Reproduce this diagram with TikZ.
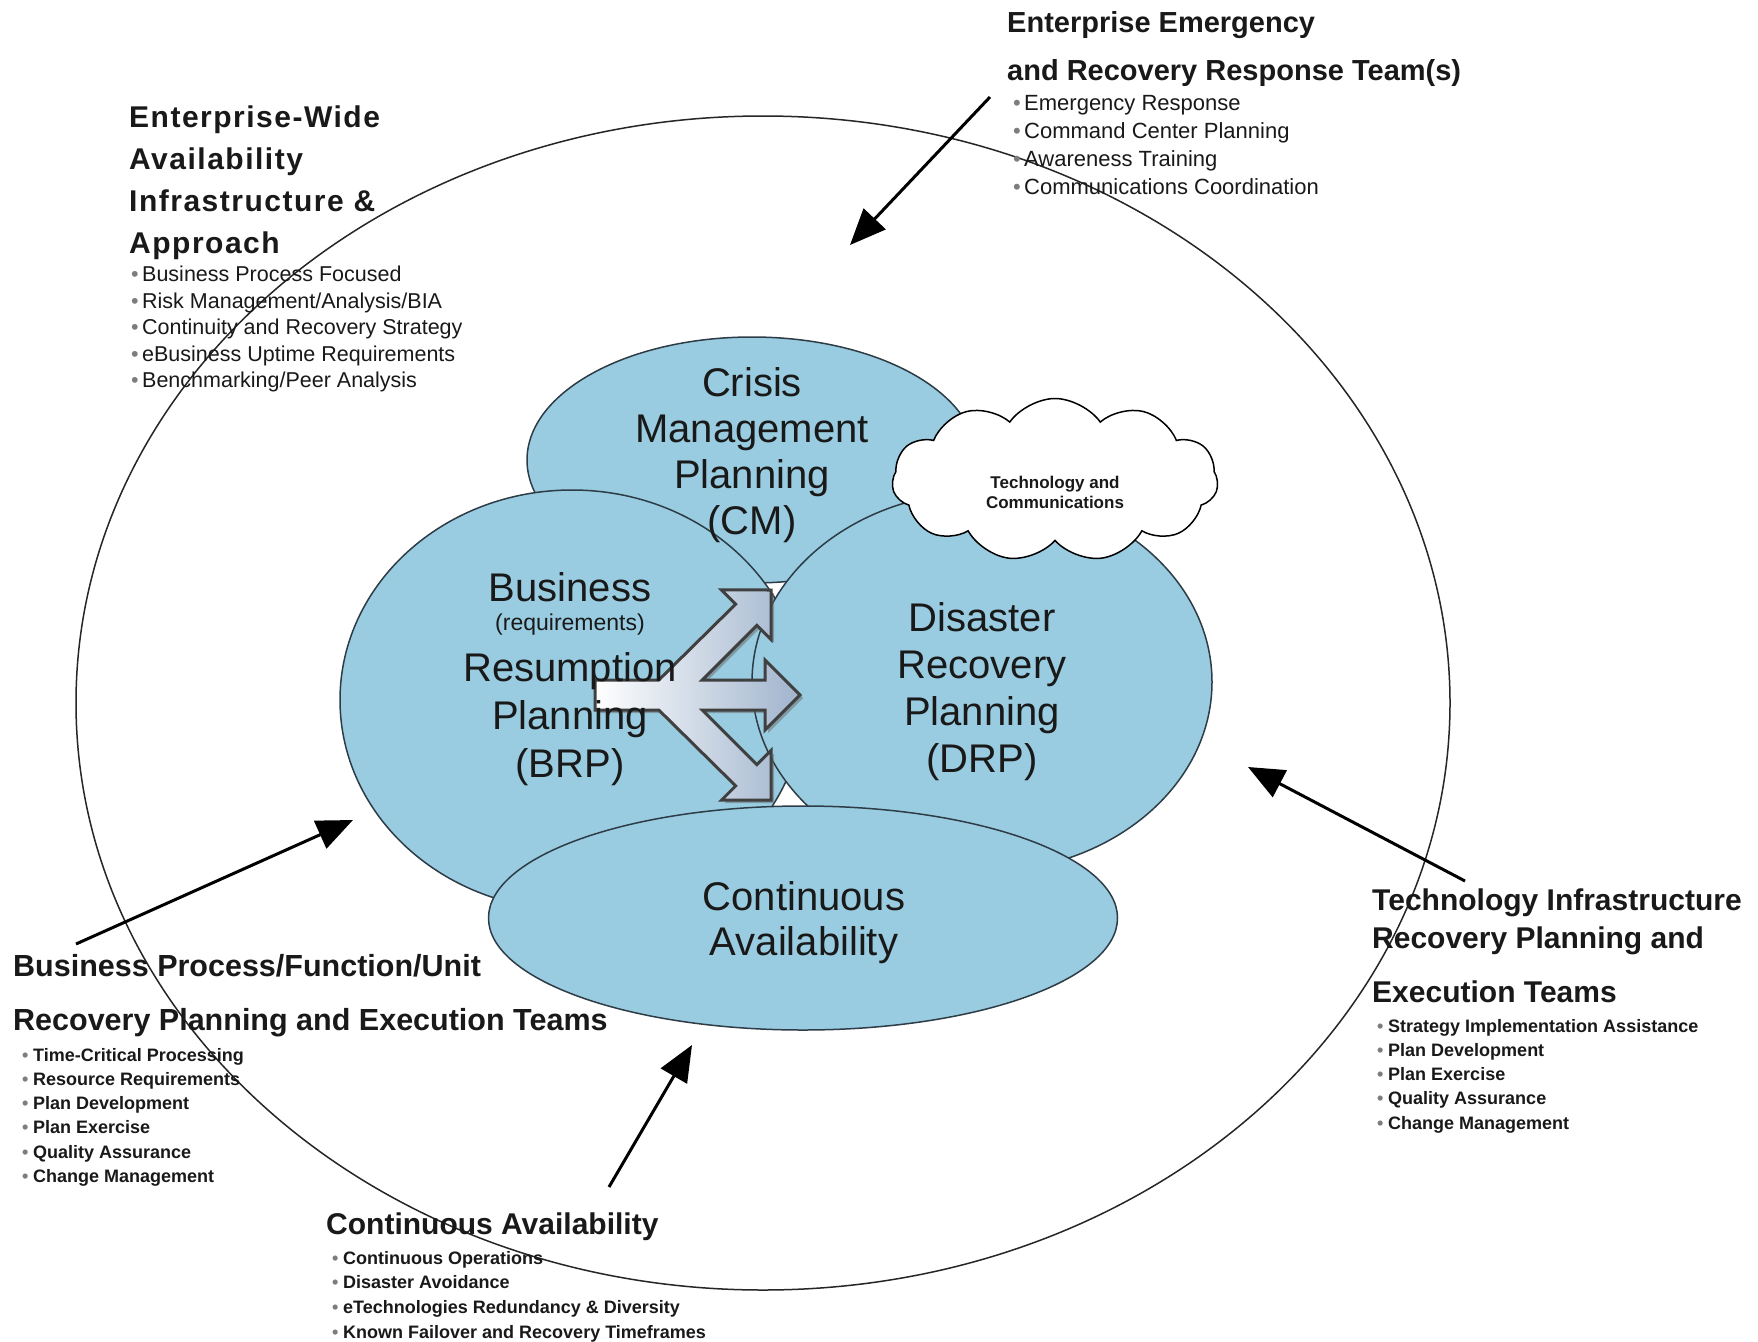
\documentclass[tikz,border=0pt]{standalone}
\usepackage{fontspec}
\setmainfont{Liberation Sans}
\usetikzlibrary{shapes.geometric, shapes.symbols, positioning, shadows, arrows.meta}
\definecolor{bcBlue}{RGB}{153,204,224}
\definecolor{bcEdge}{RGB}{45,60,70}
\definecolor{bcGray}{RGB}{125,125,125}
\definecolor{bcText}{RGB}{25,25,25}
\definecolor{bcSteel}{RGB}{160,180,205}
\newcommand{\bitem}[1]{\makebox[11pt][l]{\textcolor{bcGray}{\textbullet}}#1}

\begin{document}
\begin{tikzpicture}[x=1pt, y=-1pt,
    zone/.style={ellipse, draw=bcEdge, line width=1.5pt, fill=bcBlue, inner sep=0pt},
    zonetext/.style={align=center, anchor=north, inner sep=0pt, text=bcText, font=\fontsize{40}{46}\selectfont},
    headtext/.style={align=left, anchor=north west, inner sep=0pt, text=bcText, font=\fontsize{30}{42}\selectfont\bfseries},
    blist/.style={align=left, anchor=north west, inner sep=0pt, text=bcText, font=\fontsize{18}{24.2}\selectfont\bfseries},
    tlist/.style={align=left, anchor=north west, inner sep=0pt, text=bcText, font=\fontsize{21.5}{26.5}\selectfont},
    teamarrow/.style={-{Triangle[length=36pt, width=30pt]}, line width=3pt, black}
  ]
  \useasboundingbox (0,0) rectangle (1758,1341);
  \fill[white] (0,0) rectangle (1758,1341);

  % outer ring and planning areas
  \node[ellipse, draw=black!85, line width=1.5pt, minimum width=1374pt, minimum height=1174pt] (outer) at (763,703) {};
  \node[zone, minimum width=450pt, minimum height=246pt] (cm) at (752,460) {};
  \node[zone, minimum width=464pt, minimum height=420pt] (brp) at (572,700) {};
  \node[zone, minimum width=460pt, minimum height=380pt] (drp) at (982,682) {};
  \node[zone, minimum width=629pt, minimum height=224pt] (ca) at (803,918) {};
  \node[cloud, draw=black, line width=1.5pt, fill=white, cloud puffs=11, cloud puff arc=110, aspect=2,
        minimum width=326pt, minimum height=163pt, inner sep=0pt] (techcloud) at (1055,480) {};
  \node[align=center, inner sep=0pt, text=bcText, font=\fontsize{17}{20}\selectfont\bfseries]
    (techtext) at ([yshift=-12pt]techcloud.center) {Technology and\\Communications};

  % three way arrow
  \draw[line width=3pt, draw=black!75, line join=miter, left color=white, right color=bcSteel,
        drop shadow={shadow xshift=3pt, shadow yshift=-3pt, fill=black!60}]
    (595,680) -- (658.8,680) -- (735.7,604.1) -- (721.5,589.9) -- (771,590) -- (771,639.5)
    -- (756.9,625.3) -- (702.2,680) -- (765,680) -- (765,660) -- (800,695) -- (765,730)
    -- (765,710) -- (702.2,710) -- (756.9,764.7) -- (771,750.5) -- (771,800) -- (721.5,800.1)
    -- (735.7,785.9) -- (658.8,710) -- (595,710) -- cycle;

  \node[zonetext] (cmtext) at (752,367) {Crisis\\Management\\Planning\\(CM)};
  \node[zonetext, font=\fontsize{40}{48}\selectfont] (brptext) at (570,572)
    {Business\\[-19pt]{\fontsize{23}{26}\selectfont (requirements)}\\[3pt]Resumption\\Planning\\(BRP)};
  \node[zonetext, font=\fontsize{40}{47}\selectfont] (drptext) at (982,602) {Disaster\\Recovery\\Planning\\(DRP)};
  \node[zonetext, font=\fontsize{40}{45}\selectfont] (catext) at (804,881) {Continuous\\Availability};

  % team blocks
  \node[headtext, font=\fontsize{29}{48}\selectfont\bfseries] (emerghead) at (1007,11)
    {Enterprise Emergency\\and Recovery Response Team(s)};
  \node[tlist, font=\fontsize{22}{28}\selectfont] (emerglist) at (1013,95)
    {\bitem{Emergency Response}\\\bitem{Command Center Planning}\\\bitem{Awareness Training}\\\bitem{Communications Coordination}};

  \node[headtext, font=\fontsize{30}{41.7}\selectfont\bfseries\addfontfeatures{LetterSpace=5}] (widehead) at (129,106)
    {Enterprise-Wide\\Availability\\Infrastructure \&\\Approach};
  \node[tlist] (widelist) at (131,266)
    {\bitem{Business Process Focused}\\\bitem{Risk Management/Analysis/BIA}\\\bitem{Continuity and Recovery Strategy}\\\bitem{eBusiness Uptime Requirements}\\\bitem{Benchmarking/Peer Analysis}};

  \node[headtext, font=\fontsize{30.5}{54}\selectfont\bfseries] (bizhead) at (13,954)
    {Business Process/Function/Unit\\Recovery Planning and Execution Teams};
  \node[blist] (bizlist) at (22,1048)
    {\bitem{Time-Critical Processing}\\\bitem{Resource Requirements}\\\bitem{Plan Development}\\\bitem{Plan Exercise}\\\bitem{Quality Assurance}\\\bitem{Change Management}};

  \node[headtext] (cahead) at (326,1213) {Continuous Availability};
  \node[blist, font=\fontsize{18}{24.7}\selectfont\bfseries] (calist) at (332,1251)
    {\bitem{Continuous Operations}\\\bitem{Disaster Avoidance}\\\bitem{eTechnologies Redundancy \& Diversity}\\\bitem{Known Failover and Recovery Timeframes}};

  \node[headtext, font=\fontsize{30}{38}\selectfont\bfseries] (techhead) at (1372,889)
    {Technology Infrastructure\\Recovery Planning and\\[16pt]Execution Teams};
  \node[blist] (techlist) at (1377,1019)
    {\bitem{Strategy Implementation Assistance}\\\bitem{Plan Development}\\\bitem{Plan Exercise}\\\bitem{Quality Assurance}\\\bitem{Change Management}};

  % pointers into the ring
  \coordinate (emergtail) at (990,97);
  \coordinate (emergtip) at (850,245);
  \coordinate (biztail) at (76,944);
  \coordinate (biztip) at (353,820);
  \coordinate (catail) at (609,1187);
  \coordinate (catip) at (692,1045);
  \coordinate (techtail) at (1465,881);
  \coordinate (techtip) at (1248,767);
  \draw[teamarrow] (emergtail) -- (emergtip);
  \draw[teamarrow] (biztail) -- (biztip);
  \draw[teamarrow] (catail) -- (catip);
  \draw[teamarrow] (techtail) -- (techtip);
\end{tikzpicture}
\end{document}
